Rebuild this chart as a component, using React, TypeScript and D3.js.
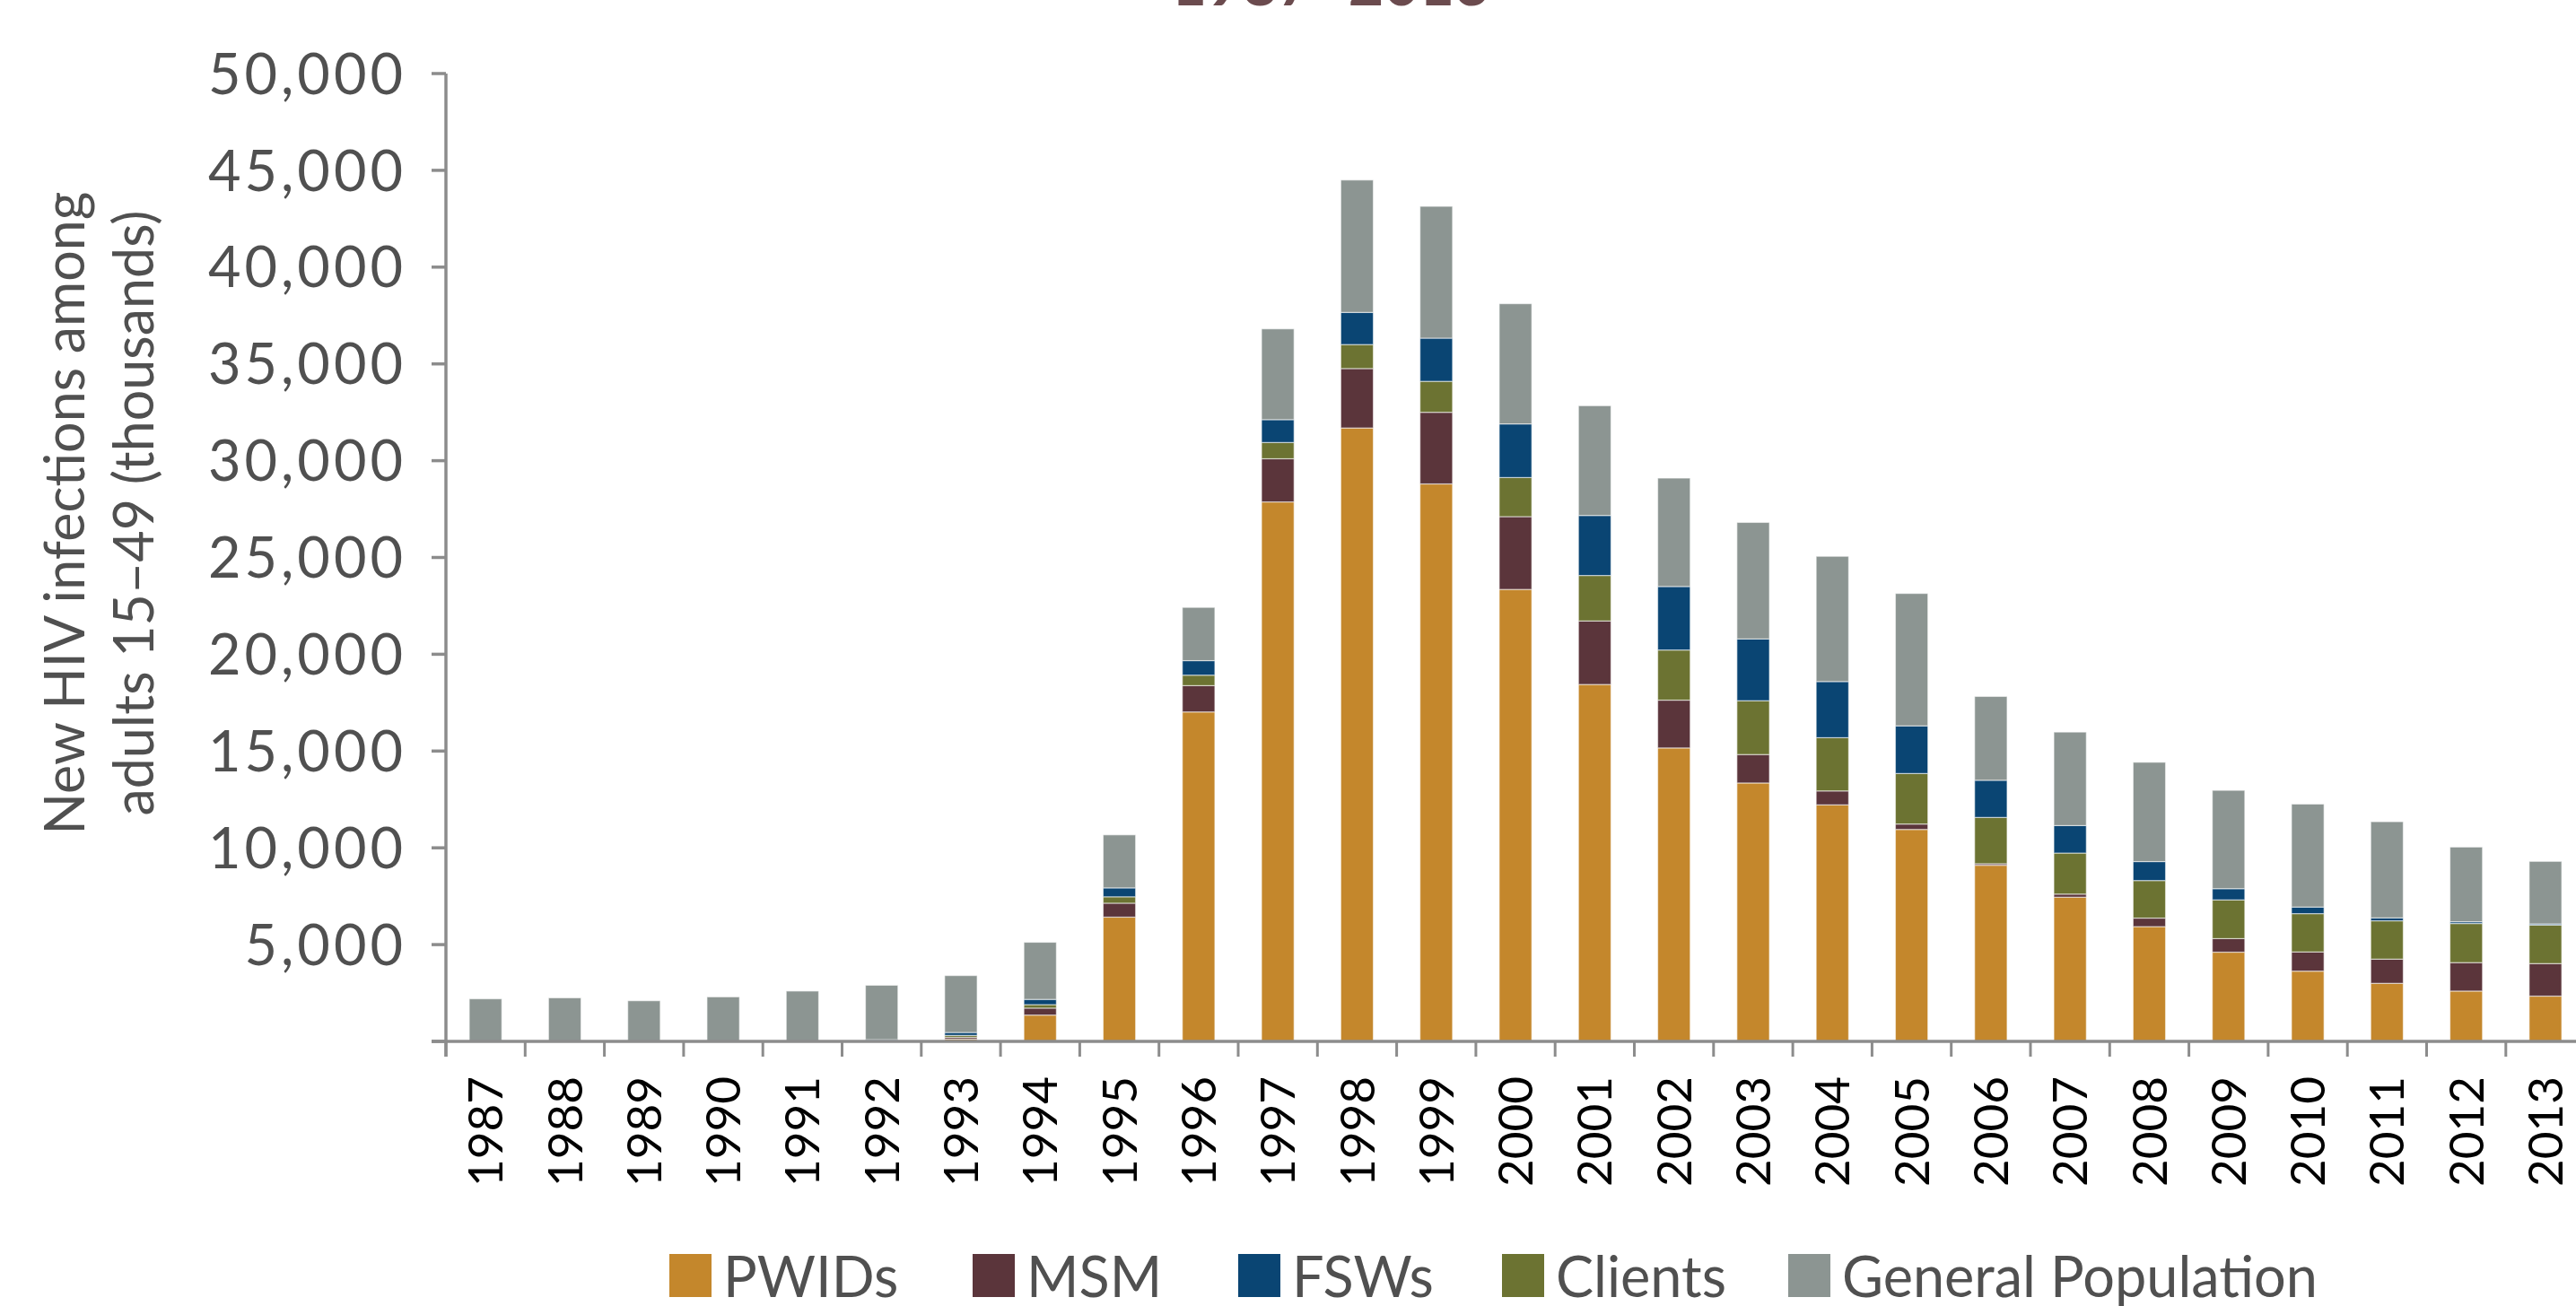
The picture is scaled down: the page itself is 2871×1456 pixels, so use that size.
import * as d3 from "d3";

const years = [
  "1987", "1988", "1989", "1990", "1991", "1992", "1993", "1994", "1995",
  "1996", "1997", "1998", "1999", "2000", "2001", "2002", "2003", "2004",
  "2005", "2006", "2007", "2008", "2009", "2010", "2011", "2012", "2013",
];

// stacked bottom -> top: PWIDs, MSM, Clients, FSWs, General Population
const pwids = [
  0, 0, 0, 0, 0, 0, 120, 1360, 6420, 17020, 27870, 31690, 28800, 23350, 18440,
  15160, 13350, 12220, 10950, 9100, 7450, 5930, 4610, 3630, 3000, 2600, 2340,
];
const msm = [
  0, 0, 0, 0, 0, 10, 90, 360, 720, 1360, 2230, 3070, 3700, 3760, 3280, 2470,
  1470, 720, 280, 80, 160, 440, 700, 990, 1250, 1470, 1680,
];
const clients = [
  0, 0, 0, 0, 0, 20, 100, 180, 330, 540, 840, 1240, 1600, 2020, 2350, 2590,
  2780, 2750, 2610, 2390, 2120, 1940, 2000, 1980, 1980, 2020, 1990,
];
const fsws = [
  0, 0, 0, 0, 0, 60, 150, 270, 460, 750, 1180, 1660, 2230, 2770, 3100, 3280,
  3190, 2900, 2460, 1920, 1420, 980, 580, 340, 150, 90, 60,
];
const generalPop = [
  2200, 2250, 2100, 2300, 2600, 2810, 2940, 2950, 2740, 2750, 4690, 6840, 6810,
  6210, 5670, 5600, 6020, 6470, 6840, 4330, 4830, 5130, 5080, 5320, 4970, 3860,
  3230,
];

const yTicks = [0, 5000, 10000, 15000, 20000, 25000, 30000, 35000, 40000, 45000, 50000];

const legendItems = [
  { key: "pwids", label: "PWIDs", color: "#C4872C" },
  { key: "msm", label: "MSM", color: "#5B353B" },
  { key: "fsws", label: "FSWs", color: "#0A4573" },
  { key: "clients", label: "Clients", color: "#6C7332" },
  { key: "gen", label: "General Population", color: "#8C9592" },
];
const stackKeys = ["pwids", "msm", "clients", "fsws", "gen"];
const colorOf: Record<string, string> = {};
legendItems.forEach((d) => (colorOf[d.key] = d.color));

const W = 2871;
const H = 1456;
const axisX = 497;
const baseY = 1161;
const topY = 82;
const font = "Lato, 'Open Sans', sans-serif";
const textGray = "#505050";
const axisGray = "#8C8C8C";

export default function App() {
  const rows = years.map((yr, i) => ({
    year: yr,
    pwids: pwids[i],
    msm: msm[i],
    clients: clients[i],
    fsws: fsws[i],
    gen: generalPop[i],
  }));
  const series = d3.stack<any>().keys(stackKeys)(rows);

  const step = 88.3;
  const x = d3
    .scaleBand<string>()
    .domain(years)
    .range([axisX, axisX + step * years.length])
    .paddingInner(0.59)
    .paddingOuter(0.295);
  const y = d3.scaleLinear().domain([0, 50000]).range([baseY, topY]);
  const fmt = d3.format(",");

  const legendX = [746, 1084, 1380, 1674, 1993];

  return (
    <svg
      width={W}
      height={H}
      style={{ position: "absolute", left: 0, top: 0, background: "#fff" }}
    >
      {/* clipped title */}
      <text
        x={1483}
        y={6}
        textAnchor="middle"
        fontFamily={font}
        fontWeight={700}
        fontSize={68}
        fill="#6B4B4E"
      >
        1987–2013
      </text>

      {/* bars */}
      {series.map((s) => (
        <g key={s.key} fill={colorOf[s.key]}>
          {s.map((d, i) =>
            d[1] - d[0] > 0 ? (
              <rect
                key={i}
                x={x(years[i])}
                width={x.bandwidth()}
                y={y(d[1])}
                height={y(d[0]) - y(d[1])}
                stroke="#ffffff"
                strokeOpacity={0.55}
                strokeWidth={1.2}
              />
            ) : null
          )}
        </g>
      ))}

      {/* y axis */}
      <line x1={axisX} x2={axisX} y1={topY} y2={baseY + 17} stroke={axisGray} strokeWidth={3.5} />
      {yTicks.map((t) => (
        <g key={t}>
          <line x1={axisX - 16} x2={axisX} y1={y(t)} y2={y(t)} stroke={axisGray} strokeWidth={3.5} />
          {t > 0 && (
            <text
              x={453}
              y={y(t)}
              dy="0.36em"
              textAnchor="end"
              fontFamily={font}
              fontSize={63}
              letterSpacing={4}
              fill={textGray}
            >
              {fmt(t)}
            </text>
          )}
        </g>
      ))}

      {/* x axis */}
      <line x1={axisX - 16} x2={W} y1={baseY} y2={baseY} stroke={axisGray} strokeWidth={3.5} />
      {d3.range(years.length + 1).map((i) => (
        <line
          key={i}
          x1={axisX + i * x.step()}
          x2={axisX + i * x.step()}
          y1={baseY}
          y2={baseY + 17}
          stroke={axisGray}
          strokeWidth={3}
        />
      ))}
      {years.map((yr) => (
        <text
          key={yr}
          transform={`translate(${(x(yr) as number) + x.bandwidth() / 2},1200) rotate(-90)`}
          dy="0.36em"
          textAnchor="end"
          fontFamily={font}
          fontSize={53}
          fill="#000"
        >
          {yr}
        </text>
      ))}

      {/* y axis title */}
      <g fontFamily={font} fontSize={61} fill={textGray} textAnchor="middle">
        <text transform="translate(94,572) rotate(-90)">New HIV infections among</text>
        <text transform="translate(171,572) rotate(-90)">adults 15–49 (thousands)</text>
      </g>

      {/* legend */}
      {legendItems.map((d, i) => (
        <g key={d.key} transform={`translate(${legendX[i]},1398)`}>
          <rect width={47} height={48} fill={d.color} />
          <text x={60} y={48} fontFamily={font} fontSize={63} fill={textGray}>
            {d.label}
          </text>
        </g>
      ))}
    </svg>
  );
}
